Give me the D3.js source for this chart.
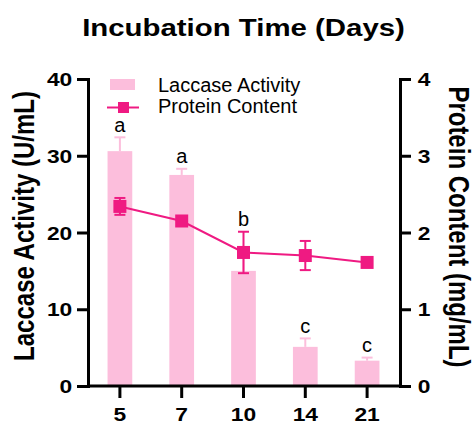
<!DOCTYPE html>
<html>
<head>
<meta charset="utf-8">
<script src="https://cdn.jsdelivr.net/npm/d3@7"></script>
<style>
  body { margin: 0; background: #fff; }
  svg { display: block; font-family: Arial, "Liberation Sans", sans-serif; }
</style>
</head>
<body>
<div id="chart"></div>
<script>
// donnees
var jours = ["5", "7", "10", "14", "21"];
var laccase = [30.6, 27.5, 15.0, 5.1, 3.3];
var laccaseErr = [1.8, 0.8, 2.2, 1.1, 0.4];
var proteine = [2.34, 2.15, 1.74, 1.70, 1.61];
var proteineErr = [0.11, 0.05, 0.27, 0.19, 0.04];
var lettres = ["a", "a", "b", "c", "c"];
var ticksGauche = [0, 10, 20, 30, 40];
var ticksDroite = [0, 1, 2, 3, 4];

var rose = "#FCBEDC";
var fuchsia = "#EF1A82";
var etire = "scale(1.2,1)"; // le texte de l'image est un peu elargi

var svg = d3.select("#chart").append("svg").attr("width", 474).attr("height", 423);

var x = d3.scaleBand().domain(jours).range([89, 398]).paddingInner(0.6).paddingOuter(0.3);
var yG = d3.scaleLinear().domain([0, 40]).range([386, 79]);
var yD = d3.scaleLinear().domain([0, 4]).range([386, 79]);

var donnees = jours.map(function (j, i) {
  return { jour: j, lac: laccase[i], lacErr: laccaseErr[i], prot: proteine[i], protErr: proteineErr[i], lettre: lettres[i] };
});

// barres
svg.selectAll("rect.barre").data(donnees).enter().append("rect")
  .attr("class", "barre")
  .attr("x", function (d) { return x(d.jour); })
  .attr("width", x.bandwidth())
  .attr("y", function (d) { return yG(d.lac); })
  .attr("height", function (d) { return yG(0) - yG(d.lac); })
  .attr("fill", rose);

// barres d'erreur des barres (vers le haut seulement)
var eb = svg.selectAll("g.errBarre").data(donnees).enter().append("g").attr("class", "errBarre")
  .attr("stroke", rose).attr("stroke-width", 2);
eb.append("line")
  .attr("x1", function (d) { return x(d.jour) + x.bandwidth() / 2; })
  .attr("x2", function (d) { return x(d.jour) + x.bandwidth() / 2; })
  .attr("y1", function (d) { return yG(d.lac); })
  .attr("y2", function (d) { return yG(d.lac + d.lacErr); });
eb.append("line")
  .attr("x1", function (d) { return x(d.jour) + x.bandwidth() / 2 - 5.5; })
  .attr("x2", function (d) { return x(d.jour) + x.bandwidth() / 2 + 5.5; })
  .attr("y1", function (d) { return yG(d.lac + d.lacErr); })
  .attr("y2", function (d) { return yG(d.lac + d.lacErr); });

// courbe proteine
var ligne = d3.line()
  .x(function (d) { return x(d.jour) + x.bandwidth() / 2; })
  .y(function (d) { return yD(d.prot); });
svg.append("path").datum(donnees).attr("d", ligne)
  .attr("fill", "none").attr("stroke", fuchsia).attr("stroke-width", 2);

var ep = svg.selectAll("g.errProt").data(donnees).enter().append("g").attr("class", "errProt")
  .attr("stroke", fuchsia).attr("stroke-width", 2);
ep.append("line")
  .attr("x1", function (d) { return x(d.jour) + x.bandwidth() / 2; })
  .attr("x2", function (d) { return x(d.jour) + x.bandwidth() / 2; })
  .attr("y1", function (d) { return yD(d.prot - d.protErr); })
  .attr("y2", function (d) { return yD(d.prot + d.protErr); });
[1, -1].forEach(function (s) {
  ep.append("line")
    .attr("x1", function (d) { return x(d.jour) + x.bandwidth() / 2 - 5.5; })
    .attr("x2", function (d) { return x(d.jour) + x.bandwidth() / 2 + 5.5; })
    .attr("y1", function (d) { return yD(d.prot + s * d.protErr); })
    .attr("y2", function (d) { return yD(d.prot + s * d.protErr); });
});

svg.selectAll("rect.marque").data(donnees).enter().append("rect")
  .attr("class", "marque")
  .attr("x", function (d) { return x(d.jour) + x.bandwidth() / 2 - 6.5; })
  .attr("y", function (d) { return yD(d.prot) - 6.5; })
  .attr("width", 13).attr("height", 13)
  .attr("fill", fuchsia);

// lettres de significativite : au-dessus de la barre, ou de la proteine si elles se chevauchent
svg.selectAll("text.lettre").data(donnees).enter().append("text")
  .attr("class", "lettre")
  .attr("x", function (d) { return x(d.jour) + x.bandwidth() / 2; })
  .attr("y", function (d) {
    var haut = yG(d.lac + d.lacErr);
    var pHaut = yD(d.prot + d.protErr), pBas = yD(d.prot - d.protErr);
    if (haut > pHaut - 12 && haut < pBas + 12) haut = pHaut;
    return haut - 5.5;
  })
  .attr("text-anchor", "middle")
  .style("font-size", "20px")
  .text(function (d) { return d.lettre; });

// axes
function styleAxe(g) {
  g.select(".domain").attr("stroke", "#000").attr("stroke-width", 3);
  g.selectAll(".tick line").attr("stroke", "#000").attr("stroke-width", 3);
  g.selectAll(".tick text").attr("fill", "#000").style("font-size", "19px").style("font-weight", "bold")
    .attr("transform", etire);
}

var axeG = svg.append("g").attr("transform", "translate(88,0)")
  .call(d3.axisLeft(yG).tickValues(ticksGauche).tickFormat(d3.format("d")).tickSize(11).tickSizeOuter(11));
styleAxe(axeG);
axeG.selectAll(".tick text").attr("x", -13.1).attr("dy", "0.35em");

var axeD = svg.append("g").attr("transform", "translate(400,0)")
  .call(d3.axisRight(yD).tickValues(ticksDroite).tickFormat(d3.format("d")).tickSize(11).tickSizeOuter(11));
styleAxe(axeD);
axeD.selectAll(".tick text").attr("x", 14.7).attr("dy", "0.35em");

var axeX = svg.append("g").attr("transform", "translate(0,386)")
  .call(d3.axisBottom(x).tickSize(12).tickSizeOuter(0));
styleAxe(axeX);
axeX.select(".domain").attr("d", "M88,0H400");
axeX.selectAll(".tick text").attr("y", 35.3).attr("dy", 0);

// titres
svg.append("text")
  .attr("transform", "translate(243.5,36) " + etire)
  .attr("text-anchor", "middle")
  .style("font-size", "24.5px").style("font-weight", "bold")
  .text("Incubation Time (Days)");

svg.append("text")
  .attr("transform", "translate(33.5,226) " + etire + " rotate(-90)")
  .attr("text-anchor", "middle")
  .style("font-size", "24px").style("font-weight", "bold")
  .text("Laccase Activity (U/mL)");

svg.append("text")
  .attr("transform", "translate(449,227) " + etire + " rotate(90)")
  .attr("text-anchor", "middle")
  .style("font-size", "24px").style("font-weight", "bold")
  .text("Protein Content (mg/mL)");

// legende
var leg = svg.append("g");
leg.append("rect").attr("x", 110).attr("y", 79).attr("width", 25).attr("height", 11).attr("fill", rose);
leg.append("text").attr("x", 158).attr("y", 91.5).style("font-size", "20px").text("Laccase Activity");
leg.append("line").attr("x1", 107).attr("x2", 139).attr("y1", 107.5).attr("y2", 107.5)
  .attr("stroke", fuchsia).attr("stroke-width", 2);
leg.append("rect").attr("x", 118).attr("y", 102).attr("width", 11).attr("height", 11).attr("fill", fuchsia);
leg.append("text").attr("x", 158).attr("y", 113.3).style("font-size", "20px").text("Protein Content");
</script>
</body>
</html>
